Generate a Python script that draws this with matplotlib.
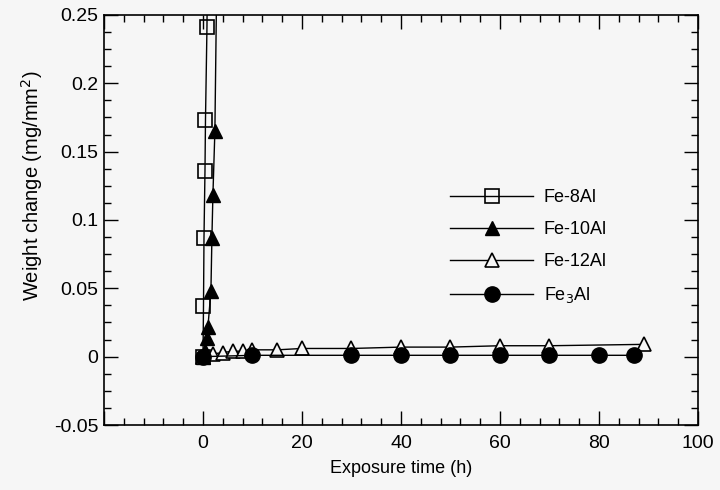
import matplotlib.pyplot as plt
from matplotlib.ticker import MultipleLocator, FuncFormatter

plt.rcParams['font.family'] = ['Liberation Sans', 'DejaVu Sans']

# Fe-8Al (open squares), last point runs off the top of the axes
t_8al = [0, 0.1, 0.2, 0.4, 0.5, 0.8, 1.2]
w_8al = [0.0, 0.037, 0.087, 0.136, 0.173, 0.241, 0.40]

# Fe-10Al (filled triangles)
t_10al = [0, 0.5, 0.8, 1.0, 1.6, 1.8, 2.0, 2.4, 3.2]
w_10al = [0.0, 0.004, 0.014, 0.022, 0.048, 0.087, 0.118, 0.165, 0.40]

# Fe-12Al (open triangles)
t_12al = [0, 2, 4, 6, 8, 10, 15, 20, 30, 40, 50, 60, 70, 89]
w_12al = [0.0, 0.002, 0.003, 0.004, 0.004, 0.005, 0.005, 0.006, 0.006, 0.007, 0.007, 0.008, 0.008, 0.009]

# Fe3Al (filled circles)
t_3al = [0, 10, 30, 40, 50, 60, 70, 80, 87]
w_3al = [0.0, 0.001, 0.001, 0.001, 0.001, 0.001, 0.001, 0.001, 0.001]

bg = '#f6f6f6'
fig = plt.figure(figsize=(7.2, 4.9), dpi=100, facecolor=bg)
ax = fig.add_axes([104 / 720, 1 - 425 / 490, (698 - 104) / 720, (425 - 15) / 490])
ax.set_facecolor(bg)

ax.plot(t_8al, w_8al, color='black', lw=1, marker='s', ms=10, mfc='none', mec='black', mew=1.2, label='Fe-8Al')
ax.plot(t_10al, w_10al, color='black', lw=1, marker='^', ms=10, mfc='black', mec='black', label='Fe-10Al')
ax.plot(t_12al, w_12al, color='black', lw=1, marker='^', ms=10, mfc=bg, mec='black', mew=1.2, label='Fe-12Al')
ax.plot(t_3al, w_3al, color='black', lw=1, marker='o', ms=11, mfc='black', mec='black', label='Fe$_3$Al')

ax.set_xlim(-20, 100)
ax.set_ylim(-0.05, 0.25)
ax.xaxis.set_major_locator(MultipleLocator(20))
ax.xaxis.set_minor_locator(MultipleLocator(4))
ax.yaxis.set_major_locator(MultipleLocator(0.05))
ax.yaxis.set_minor_locator(MultipleLocator(0.0125))
ax.xaxis.set_major_formatter(FuncFormatter(lambda v, p: '' if v < 0 else '%d' % round(v)))
ax.yaxis.set_major_formatter(FuncFormatter(lambda v, p: '%g' % round(v, 3)))

ax.tick_params(which='both', direction='in', top=True, right=True, labelsize=14, width=1)
ax.tick_params(which='major', length=10, pad=4)
ax.tick_params(axis='x', which='major', pad=7)
ax.tick_params(which='minor', length=5)
for s in ax.spines.values():
    s.set_linewidth(1.2)

ax.set_xlabel('Exposure time (h)', fontsize=13, labelpad=6)
ax.set_ylabel('Weight change (mg/mm$^2$)', fontsize=14.5)
ax.yaxis.set_label_coords(-0.1, 0.583)

ax.legend(loc='center left', bbox_to_anchor=(450 / 720, 1 - 247 / 490), bbox_transform=fig.transFigure,
          frameon=False, fontsize=13, handlelength=4.6, handletextpad=0.6, labelspacing=0.83,
          borderpad=0, borderaxespad=0)

fig.savefig('out.png', dpi=100, facecolor=bg)
